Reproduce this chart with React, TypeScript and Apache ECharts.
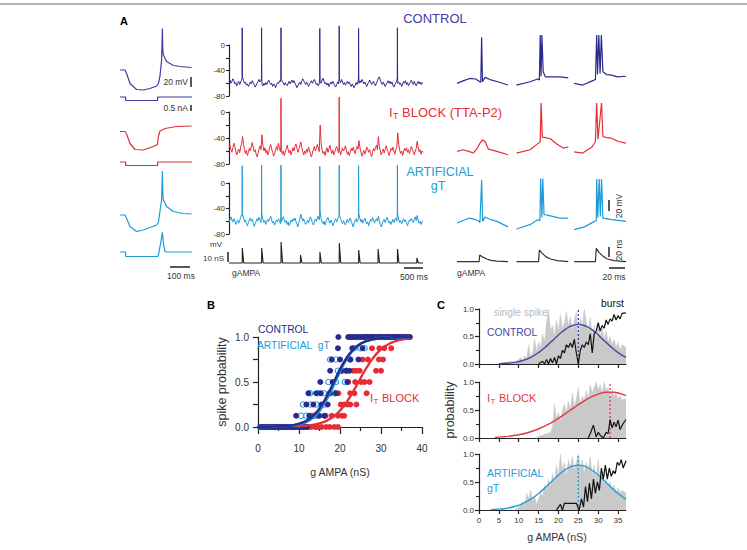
import React, { useEffect, useRef } from 'react';
import * as echarts from 'echarts';

const FONT = '"Liberation Sans", Arial, Helvetica, sans-serif';
const NAVY = '#2a2a8e';
const BLUE = '#3d3da3';
const RED = '#e62d36';
const CYAN = '#1c9bd7';
const GRAY = '#c9c9c9';
const INK = '#222222';
const LAB = '#333333';

// ---------- Panel A, left column (ms, mV / nA) ----------
const leftCtrlV = [[0,-60],[25,-60],[33,-67],[50,-87],[83,-99],[117,-100],[150,-97],[183,-92],[192,-87],[200,-72],[208,-40],[212,23],[214,-20],[217,-30],[233,-43],[267,-51],[300,-53],[358,-55]];
const leftRedV = [[0,-61],[25,-61],[33,-66],[50,-85],[75,-97],[117,-98],[167,-91],[187,-87],[192,-71],[200,-60],[225,-55],[283,-51],[358,-50]];
const leftCyanV = [[0,-60],[25,-60],[33,-67],[50,-83],[83,-93],[117,-90],[183,-80],[192,-75],[203,-43],[208,-30],[212,28],[214,-15],[217,-30],[233,-43],[267,-53],[317,-57],[358,-58]];
const leftCtrlI = [[0,0],[28,0],[28,-0.35],[188,-0.35],[188,0],[360,0]];
const leftRedI = [[0,0],[28,0],[28,-0.35],[188,-0.35],[188,0],[360,0]];
const leftCyanI = [[0,0],[28,0],[28,-0.45],[188,-0.45],[192,-0.3],[203,0.87],[212,1.97],[217,0.87],[225,0.03],[240,0],[360,0]];

// ---------- Panel A, middle column (ms, mV / nS) ----------
const noiseStep = 25;
const ctrlNoise = [
  -58,-55,-60,-57,-53,-56,-61,-59,-64,-60,-57,-62,-58,-55,-51,-56,-60,-58,-63,-61,
  -65,-62,-58,-61,-56,-59,-62,-66,-63,-60,-57,-54,-58,-56,-61,-64,-60,-63,-59,-62,
  -58,-55,-59,-62,-60,-65,-61,-63,-67,-62,-59,-61,-56,-58,-54,-57,-60,-63,-59,-62,
  -64,-60,-57,-61,-58,-55,-59,-56,-60,-63,-67,-64,-61,-58,-62,-57,-53,-56,-59,-62,
  -58,-61,-65,-62,-59,-56,-60,-57,-54,-58,-62,-60,-64,-61,-57,-60,-55,-52,-57,-61,
  -59,-63,-60,-65,-62,-58,-61,-57,-60,-64,-66,-62,-58,-61,-56,-59,-54,-58,-62,-59,
  -63,-60,-57,-61,-58,-62,-65,-61,-64,-67,-63,-59,-62,-57,-60,-56,-59,-54,-57,-61,
  -58,-62,-65,-61,-59,-55,-58,-62,-60,-57,-61,-64,-60,-56,-52,-50,-55,-59,-62,-58,
  -61,-65,-62,-59,-56,-60,-57,-61,-58,-63,-66,-62,-59,-56,-60,-58,-62,-60,-65,-61,
  -57,-60,-56,-62,-59,-64,-61,-58,-55,-59,-62,-57,-61,-64,-60,-57,-61,-58,-62,-59,
  -60];
const redNoise = [
  -56,-51,-58,-62,-55,-48,-53,-60,-66,-61,-57,-63,-54,-49,-38,-50,-58,-64,-59,-67,
  -62,-56,-60,-53,-47,-55,-61,-58,-65,-69,-63,-57,-52,-58,-35,-52,-60,-55,-63,-59,
  -66,-61,-54,-50,-57,-62,-68,-64,-58,-53,-59,-48,-55,-61,-57,-65,-60,-67,-62,-56,
  -51,-58,-63,-59,-66,-61,-55,-60,-53,-49,-56,-62,-58,-52,-46,-54,-61,-66,-60,-64,
  -57,-62,-54,-59,-65,-69,-63,-58,-53,-60,-56,-50,-55,-61,-20,-48,-58,-64,-61,-67,
  -60,-55,-62,-57,-51,-58,-64,-59,-66,-62,-56,-53,-59,-63,-58,-66,-61,-55,-60,-57,
  -52,-58,-65,-61,-67,-62,-56,-60,-54,-59,-64,-58,-53,-57,-44,-55,-62,-68,-63,-59,
  -65,-60,-54,-57,-62,-58,-64,-69,-62,-56,-60,-55,-51,-58,-38,-53,-60,-66,-61,-57,
  -63,-58,-52,-57,-61,-67,-62,-56,-59,-54,-60,-65,-58,-55,-32,-50,-59,-64,-60,-67,
  -61,-56,-60,-55,-62,-58,-64,-59,-53,-57,-62,-66,-60,-56,-45,-54,-61,-58,-65,-60,
  -62];
const cyanNoise = [
  -62,-57,-53,-58,-61,-56,-60,-65,-61,-58,-63,-59,-54,-50,-48,-55,-61,-58,-64,-67,
  -62,-58,-55,-60,-57,-63,-68,-64,-60,-56,-59,-54,-58,-62,-50,-57,-62,-59,-65,-61,
  -57,-60,-55,-52,-58,-63,-60,-66,-62,-58,-61,-56,-59,-64,-61,-57,-53,-58,-62,-59,
  -65,-61,-67,-63,-58,-61,-56,-59,-55,-60,-64,-69,-62,-57,-49,-55,-60,-56,-61,-65,
  -62,-58,-63,-57,-53,-58,-62,-66,-61,-57,-60,-55,-52,-58,-45,-56,-61,-64,-60,-66,
  -61,-57,-54,-59,-63,-58,-62,-67,-63,-59,-56,-61,-57,-53,-50,-56,-60,-64,-59,-62,
  -66,-61,-57,-62,-58,-55,-60,-64,-69,-63,-59,-56,-61,-58,-47,-56,-61,-57,-63,-59,
  -55,-60,-64,-61,-67,-62,-57,-60,-54,-58,-63,-59,-56,-60,-52,-59,-65,-69,-63,-60,
  -57,-62,-58,-54,-59,-63,-60,-65,-61,-57,-62,-58,-55,-60,-48,-57,-62,-59,-64,-60,
  -56,-61,-58,-63,-67,-62,-58,-60,-55,-59,-62,-57,-53,-59,-51,-58,-63,-60,-65,-61,
  -60];
const ctrlSpikeTimes = [340, 840, 1340, 2340, 2840, 3340, 4340];
const ctrlSpikePeaks = [27, 27, 27, 26, 30, 26, 27];
const redSpikeTimes = [1340, 2840];
const redSpikePeaks = [21, 23];
const cyanSpikeTimes = [340, 840, 1340, 2340, 2840, 3340, 4340];
const cyanSpikePeaks = [27, 28, 28, 26, 28, 27, 28];
const pulseTimes = [340, 840, 1340, 1840, 2340, 2840, 3340, 3840, 4340, 4840];
const pulseAmps = [15, 15, 21, 8, 11, 20, 13, 14, 14, 5];

// ---------- Panel A, right column (ms, mV / nS), three sweeps each ----------
const rightCtrl = [
  [[0,-68],[8,-63],[15,-59],[22,-60],[26,-64],[28,-66],[29,16],[30,-65],[33,-57],[39,-61],[48,-65],[60,-71]],
  [[70,-71],[86,-65],[95,-60],[97,-62],[98,20],[99,-55],[100,20],[101.5,-47],[104,-56],[110,-56],[121,-56],[131,-58]],
  [[138,-68],[148,-71],[160,-63],[163,-61],[164.5,20],[165.5,-52],[167,20],[168.5,-50],[170,20],[171.8,-47],[176,-52],[182,-53],[189,-56],[199,-55]],
];
const rightRed = [
  [[0,-68],[7,-65],[14,-68],[19,-71],[24,-62],[27,-53],[30,-47],[33,-50],[37,-64],[47,-68],[60,-74]],
  [[70,-71],[86,-65],[96,-53],[98,-50],[99,20],[100.5,-42],[104,-43],[110,-45],[117,-54],[125,-62],[131,-60]],
  [[138,-69],[148,-71],[159,-60],[163,-50],[164.4,20],[166,-46],[170.2,20],[171.8,-41],[176,-43],[182,-44],[190,-50],[199,-53]],
];
const rightCyan = [
  [[0,-60],[8,-55],[15,-51],[22,-54],[25,-56],[27,-59],[29,18],[30.2,-57],[33,-49],[40,-54],[47,-57],[60,-67]],
  [[70,-71],[86,-63],[95,-54],[97.6,-56],[98.5,21],[100,-50],[101,21],[102.5,-45],[104,-45],[110,-47],[121,-51],[131,-51]],
  [[138,-72],[150,-67],[162,-57],[164,-56],[164.5,20],[165.8,-50],[167.4,20],[168.8,-48],[170.2,20],[171.8,-51],[182,-54],[199,-57]],
];
const rightG = [
  [[0,0],[26,0],[26.7,12.6],[30,9],[35,5],[40,2.5],[47,1],[60,0]],
  [[70,0],[96,0],[97,22],[100,16],[105,9],[110,5],[118,2],[131,0]],
  [[138,0],[163,0],[164,25],[167,18],[172,10],[177,5],[185,2],[199,0]],
];

// ---------- Panel B (nS, spike probability) ----------
const ctrlPts = [[0.5,0],[1,0],[1.5,0],[2,0],[2.5,0],[3,0],[3.5,0],[4,0],[4.5,0],[5,0],[5.5,0],[6,0],[6.5,0],[7,0],[7.5,0],[8,0],[8.5,0],[9,0],[9.5,0],[10,0],[10.5,0],[11,0],[11.5,0],[12,0],
  [9.3,0.125],[12.5,0.125],[14.8,0.125],[16.2,0.125],[11.8,0.25],[13.5,0.25],[15.5,0.25],[17,0.25],
  [12.3,0.375],[14.2,0.375],[15.3,0.375],[17.5,0.375],[19,0.375],[15.2,0.5],[18.2,0.5],[21.8,0.5],
  [17.6,0.625],[20.3,0.625],[21.5,0.625],[22.3,0.625],[18,0.75],[20,0.75],[22.5,0.75],[24.5,0.75],
  [19.5,0.875],[23,0.875],[25.5,0.875],
  [19.6,1],[22,1],[22.5,1],[23,1],[23.5,1],[24,1],[24.5,1],[25,1],[25.5,1],[26,1],[26.5,1],[27,1],[27.5,1],[28,1],[28.5,1],[29,1],[29.5,1],[30,1],[30.5,1],[31,1],[31.5,1],[32,1],[32.5,1],[33,1],[33.5,1],[34,1],[34.5,1],[35,1],[35.5,1],[36,1],[36.5,1],[37,1]];
const artPts = [[1,0],[2,0],[3,0],[4,0],[5,0],[6,0],[7,0],[8,0],[9,0],[10,0],[11,0],
  [10.5,0.125],[11.8,0.125],[13,0.125],[14,0.125],[11,0.25],[12.8,0.25],[14.2,0.25],[16.3,0.25],
  [12.7,0.375],[14.7,0.375],[16,0.375],[17.5,0.375],[18.7,0.375],[17.2,0.5],[19,0.5],[21.2,0.5],
  [19.5,0.625],[20.5,0.625],[21.6,0.625],[17.6,0.75],[19,0.75],[22.5,0.75],[23.5,0.875],[25,0.875],[26,0.875],
  [26.5,1],[28,1],[30,1],[32,1],[34,1],[36,1]];
const blockPts = [[12.2,0],[13,0],[14,0],[14.6,0],[15.5,0],[16.6,0],[17.5,0],[18.6,0],[19.5,0],
  [13.5,0.125],[15,0.125],[16.5,0.125],[18,0.125],[19.5,0.125],[20.5,0.125],[21,0.125],
  [20.2,0.25],[21,0.25],[21.8,0.25],[22.5,0.25],[24,0.25],[19.6,0.375],[22.5,0.375],[23.5,0.375],[26.5,0.375],
  [22,0.5],[23.7,0.5],[25.2,0.5],[26,0.5],[27.2,0.5],[23.2,0.625],[24,0.625],[24.8,0.625],[28.8,0.625],[30,0.625],
  [25.5,0.75],[26.8,0.75],[29.5,0.75],[30.5,0.75],[27.8,0.875],[29.6,0.875],[30.8,0.875],[32.5,0.875],
  [31.5,1],[33,1],[34,1],[35,1],[36,1],[37,1]];
const ctrlFit = [[0,0.001],[2,0.002],[4,0.004],[6,0.008],[8,0.017],[10,0.037],[11,0.053],[12,0.076],[13,0.108],[14,0.151],[15,0.207],[16,0.277],[17,0.36],[18,0.452],[19,0.548],[20,0.64],[21,0.723],[22,0.794],[23,0.849],[24,0.892],[25,0.924],[26,0.947],[27,0.963],[28,0.975],[30,0.988],[32,0.995],[34,0.997],[37,0.999]];
const artFit = [[0,0.001],[4,0.003],[8,0.013],[10,0.029],[11,0.042],[12,0.062],[13,0.089],[14,0.128],[15,0.179],[16,0.246],[17,0.327],[18,0.421],[19,0.52],[20,0.618],[21,0.707],[22,0.782],[23,0.843],[24,0.889],[25,0.923],[26,0.947],[27,0.964],[28,0.975],[30,0.989],[32,0.995],[34,0.998],[37,0.999]];
const blockFit = [[9,0.006],[10,0.008],[12,0.015],[14,0.029],[15,0.04],[16,0.056],[17,0.076],[18,0.103],[19,0.138],[20,0.182],[21,0.237],[22,0.303],[23,0.378],[24,0.458],[25,0.542],[26,0.622],[27,0.697],[28,0.763],[29,0.818],[30,0.862],[31,0.897],[32,0.924],[33,0.944],[34,0.96],[35,0.971],[36,0.979],[37,0.985]];

// ---------- Panel C (nS, probability) ----------
const ctrlSingle = [[5,0],[6,0.02],[7,0.03],[8,0.05],[9,0.04],[10,0.08],[10.5,0.12],[11,0.06],[11.5,0.15],[12,0.1],[12.5,0.35],[13,0.12],[13.5,0.2],[14,0.45],[14.5,0.22],[15,0.4],[15.5,0.3],[16,0.55],[16.5,0.4],[17,0.75],[17.5,1],[18,0.6],[18.5,0.7],[19,0.5],[19.5,0.8],[20,0.6],[20.5,0.9],[21,0.65],[21.5,0.75],[22,0.95],[22.5,0.7],[23,0.85],[23.5,0.6],[24,0.8],[24.5,0.95],[25,0.5],[25.5,0.85],[26,0.7],[26.5,1],[27,0.75],[27.5,0.6],[28,0.85],[28.5,0.5],[29,0.7],[29.5,0.45],[30,0.7],[30.5,0.5],[31,0.65],[31.5,0.45],[32,0.6],[32.5,0.4],[33,0.5],[33.5,0.35],[34,0.45],[34.5,0.3],[35,0.4],[35.5,0.25],[36,0.35],[37,0.3]];
const ctrlBurst = [[15,0],[16,0.05],[16.5,0],[17,0.08],[17.5,0],[18,0.1],[18.5,0.02],[19,0.12],[19.5,0],[20,0.15],[20.5,0.1],[21,0.25],[21.5,0.2],[22,0.35],[22.5,0.3],[23,0.38],[23.5,0.3],[24,0.45],[24.5,0.2],[25,0],[25.5,0.25],[26,0.35],[26.5,0.3],[27,0.4],[27.5,0.35],[28,0.55],[28.5,0.2],[29,0.55],[29.5,0.6],[30,0.75],[30.5,0.6],[31,0.7],[31.5,0.65],[32,0.8],[32.5,0.72],[33,0.82],[33.5,0.78],[34,0.9],[34.5,0.8],[35,0.88],[35.5,0.82],[36,0.92],[37,0.93]];
const ctrlGauss = [[5,0.005],[7,0.013],[9,0.03],[11,0.063],[13,0.121],[15,0.208],[17,0.325],[19,0.461],[21,0.59],[23,0.685],[25,0.72],[27,0.685],[29,0.59],[31,0.461],[33,0.325],[35,0.208],[37,0.121]];
const ctrlPeak = 25;
const blockSingle = [[14.5,0],[15,0.03],[16,0.05],[17,0.08],[18,0.1],[18.5,0.2],[19,0.6],[19.5,0.35],[20,0.45],[20.5,0.3],[21,0.5],[21.5,0.6],[22,0.45],[22.5,0.65],[23,0.5],[23.5,0.8],[24,0.55],[24.5,0.7],[25,0.9],[25.5,0.6],[26,0.75],[26.5,0.65],[27,0.85],[27.5,0.7],[28,0.95],[28.5,0.8],[29,0.9],[29.5,1],[30,0.85],[30.5,0.95],[31,0.8],[31.5,1],[32,0.85],[32.5,0.9],[33,0.7],[33.5,0.85],[34,0.75],[34.5,0.8],[35,0.7],[35.5,0.75],[36,0.68],[37,0.7]];
const blockBurst = [[27.5,0],[28,0.08],[28.8,0.23],[29.5,0.02],[30,0.1],[30.5,0.05],[31.3,0],[32,0.1],[32.5,0.08],[33,0.33],[33.5,0.18],[34,0.28],[34.5,0.2],[35,0.32],[35.5,0.15],[36.2,0.25],[37,0.33]];
const blockGauss = [[4,0.012],[6,0.021],[8,0.036],[10,0.058],[12,0.09],[14,0.135],[16,0.193],[18,0.266],[20,0.352],[22,0.448],[24,0.547],[26,0.642],[28,0.724],[30,0.784],[32,0.816],[33,0.82],[34,0.816],[35,0.804],[36,0.784],[37,0.757]];
const blockPeak = 33;
const artSingle = [[9,0],[10,0.05],[11,0.15],[11.5,0.08],[12,0.3],[12.5,0.2],[13,0.35],[13.5,0.15],[14,0.25],[14.5,0.1],[15,0.2],[15.5,0.3],[16,0.25],[16.5,0.45],[17,0.35],[17.5,0.55],[18,0.4],[18.5,0.65],[19,0.5],[19.5,0.8],[20,0.6],[20.5,1],[21,0.7],[21.5,0.85],[22,0.6],[22.5,0.9],[23,0.75],[23.5,0.95],[24,0.7],[24.5,0.85],[25,1],[25.5,0.75],[26,0.9],[26.5,0.65],[27,0.85],[27.5,0.7],[28,0.95],[28.5,0.6],[29,0.8],[29.5,0.55],[30,0.9],[30.5,0.5],[31,0.65],[31.5,0.45],[32,0.55],[32.5,0.4],[33,0.5],[33.5,0.35],[34,0.45],[34.5,0.3],[35,0.4],[35.5,0.3],[36,0.35],[37,0.3]];
const artBurst = [[19.5,0],[20,0.05],[20.5,0.1],[21,0],[21.5,0.12],[24.5,0.12],[25.2,0],[25.8,0.2],[26.3,0.05],[26.8,0.42],[27.3,0.15],[27.8,0.48],[28.3,0.2],[28.8,0.55],[29.3,0.3],[29.8,0.5],[30.3,0.35],[30.8,0.75],[31.3,0.55],[31.8,0.8],[32.3,0.55],[32.8,0.75],[33.3,0.6],[33.8,0.7],[34.3,0.65],[34.8,0.85],[35.3,0.8],[35.8,0.9],[36.3,0.75],[37,0.88]];
const artGauss = [[3,0.006],[5,0.015],[7,0.031],[9,0.062],[11,0.113],[13,0.19],[15,0.294],[17,0.422],[19,0.558],[21,0.682],[23,0.769],[25,0.8],[27,0.769],[29,0.682],[31,0.558],[33,0.422],[35,0.294],[37,0.19]];
const artPeak = 25;
const cTicks = [0, 5, 10, 15, 20, 25, 30, 35];

function longTrace(noise: number[], st: number[], sp: number[]) {
  const pts: number[][] = noise.map((v, i) => [i * noiseStep, v]);
  st.forEach((t, k) => { pts.push([t - 3, -52], [t, sp[k]], [t + 5, -48]); });
  pts.sort((a, b) => a[0] - b[0]);
  return pts;
}
function pulseTrace() {
  const pts: number[][] = [[0, 0]];
  pulseTimes.forEach((t, k) => { pts.push([t, 0], [t + 3, pulseAmps[k]], [t + 40, 0]); });
  pts.push([5000, 0]);
  return pts;
}

function buildOption() {
  const grid: any[] = [], xAxis: any[] = [], yAxis: any[] = [], series: any[] = [];
  const addGrid = (g: any, xa: any, ya: any) => {
    const i = grid.length;
    grid.push({ ...g, containLabel: false, outerBoundsMode: 'none' });
    xAxis.push({ gridIndex: i, type: 'value', splitLine: { show: false }, ...xa });
    yAxis.push({ gridIndex: i, type: 'value', splitLine: { show: false }, ...ya });
    return i;
  };
  const hid = (min: number, max: number) => ({ min, max, show: false });
  const line = (i: number, data: any, color: string, width = 1.1, extra: any = {}) =>
    series.push({ type: 'line', xAxisIndex: i, yAxisIndex: i, data, symbol: 'none', showSymbol: false, clip: false, silent: true, lineStyle: { color, width }, ...extra });
  const axLine = { show: true, lineStyle: { color: INK, width: 1.2 } };

  // left column
  let g = addGrid({ left: 120, top: 20, width: 72, height: 75 }, hid(0, 360), hid(-110, 40)); line(g, leftCtrlV, BLUE, 1.2);
  g = addGrid({ left: 120, top: 87, width: 72, height: 20 }, hid(0, 360), hid(-1, 1)); line(g, leftCtrlI, BLUE, 1.2);
  g = addGrid({ left: 120, top: 81, width: 72, height: 75 }, hid(0, 360), hid(-110, 40)); line(g, leftRedV, RED, 1.2);
  g = addGrid({ left: 120, top: 152, width: 72, height: 20 }, hid(0, 360), hid(-1, 1)); line(g, leftRedI, RED, 1.2);
  g = addGrid({ left: 120, top: 165, width: 72, height: 75 }, hid(0, 360), hid(-110, 40)); line(g, leftCyanV, CYAN, 1.2);
  g = addGrid({ left: 120, top: 222, width: 72, height: 40 }, hid(0, 360), hid(-1, 3)); line(g, leftCyanI, CYAN, 1.2);

  // middle column
  const midY = {
    min: -80, max: 0, interval: 40, axisLine: axLine,
    axisTick: { show: true, length: 3, lineStyle: { color: INK, width: 1.1 } },
    minorTick: { show: true, splitNumber: 2, length: 3, lineStyle: { color: INK, width: 1.1 } },
    minorSplitLine: { show: false },
    axisLabel: { fontSize: 8, color: LAB, margin: 4, fontFamily: FONT },
  };
  g = addGrid({ left: 229, top: 45, width: 194, height: 51 }, hid(0, 5000), midY); line(g, longTrace(ctrlNoise, ctrlSpikeTimes, ctrlSpikePeaks), NAVY, 1);
  g = addGrid({ left: 229, top: 112, width: 194, height: 52 }, hid(0, 5000), midY); line(g, longTrace(redNoise, redSpikeTimes, redSpikePeaks), RED, 1);
  g = addGrid({ left: 229, top: 183, width: 194, height: 51 }, hid(0, 5000), midY); line(g, longTrace(cyanNoise, cyanSpikeTimes, cyanSpikePeaks), CYAN, 1);
  g = addGrid({ left: 229, top: 238, width: 194, height: 25 }, hid(0, 5000), hid(0, 25)); line(g, pulseTrace(), INK, 1.1);

  // right column
  g = addGrid({ left: 457, top: 24, width: 169, height: 77 }, hid(0, 199), hid(-100, 40)); rightCtrl.forEach(s => line(g, s, NAVY, 1.2));
  const gr = addGrid({ left: 457, top: 92, width: 169, height: 77 }, hid(0, 199), hid(-100, 40)); rightRed.forEach(s => line(gr, s, RED, 1.2));
  const gc = addGrid({ left: 457, top: 168, width: 169, height: 77 }, hid(0, 199), hid(-100, 40)); rightCyan.forEach(s => line(gc, s, CYAN, 1.2));
  const gg = addGrid({ left: 457, top: 245.7, width: 169, height: 16 }, hid(0, 199), hid(0, 30)); rightG.forEach(s => line(gg, s, '#333', 1.2));

  // panel B
  const gb = addGrid({ left: 258, top: 337, width: 164, height: 90 }, {
    min: 0, max: 40, interval: 10, offset: 8, axisLine: axLine,
    axisTick: { show: true, length: 7, lineStyle: { color: INK, width: 1.2 } },
    minorTick: { show: true, splitNumber: 2, length: 4, lineStyle: { color: INK, width: 1.2 } },
    minorSplitLine: { show: false },
    axisLabel: { fontSize: 10, color: LAB, margin: 8, fontFamily: FONT },
  }, {
    min: 0, max: 1, interval: 0.5, axisLine: axLine,
    axisTick: { show: true, length: 5, lineStyle: { color: INK, width: 1.2 } },
    minorTick: { show: true, splitNumber: 2, length: 5, lineStyle: { color: INK, width: 1.2 } },
    minorSplitLine: { show: false },
    axisLabel: { fontSize: 10, color: LAB, margin: 9, fontFamily: FONT, formatter: (v: number) => v.toFixed(1) },
  });
  const scatter = (data: any, color: string, empty = false) => series.push({
    type: 'scatter', xAxisIndex: gb, yAxisIndex: gb, data, clip: false, silent: true,
    symbol: 'circle', symbolSize: empty ? 5.5 : 6,
    itemStyle: empty ? { color: 'rgba(255,255,255,0)', borderColor: color, borderWidth: 1.1, opacity: 1 } : { color, opacity: 1 },
  });
  scatter(artPts, CYAN, true);
  scatter(blockPts, RED);
  scatter(ctrlPts, NAVY);
  line(gb, blockFit, RED, 2.3, { smooth: true });
  line(gb, artFit, CYAN, 2.6, { smooth: true });
  line(gb, ctrlFit, NAVY, 2.4, { smooth: true });

  // panel C
  const cPanel = (top: number, h: number, labels: boolean) => addGrid({ left: 479, top, width: 147, height: h }, {
    min: 0, max: 37, interval: 5, axisLine: axLine,
    axisTick: { show: true, length: 4, customValues: cTicks, lineStyle: { color: INK, width: 1.2 } },
    axisLabel: { show: labels, customValues: cTicks, fontSize: 8, color: LAB, margin: 6, fontFamily: FONT },
  }, {
    min: 0, max: 1, interval: 0.5, axisLine: axLine,
    axisTick: { show: true, length: 4, lineStyle: { color: INK, width: 1.2 } },
    minorTick: { show: true, splitNumber: 2, length: 3, lineStyle: { color: INK, width: 1.1 } },
    minorSplitLine: { show: false },
    axisLabel: { fontSize: 8, color: LAB, margin: 5, fontFamily: FONT, formatter: (v: number) => v.toFixed(1) },
  });
  const cSet = (i: number, single: any, burst: any, gauss: any, peak: number, color: string) => {
    line(i, single, GRAY, 0.5, { areaStyle: { color: GRAY, opacity: 1 }, lineStyle: { color: GRAY, width: 0.5 } });
    line(i, gauss, color, 1.4, { smooth: true });
    line(i, [[peak, 0], [peak, 1]], color, 1.3, { lineStyle: { color, width: 1.3, type: [2, 2] } });
    line(i, burst, '#111', 1.2);
  };
  cSet(cPanel(309, 55, false), ctrlSingle, ctrlBurst, ctrlGauss, ctrlPeak, '#4646a8');
  cSet(cPanel(382, 56, false), blockSingle, blockBurst, blockGauss, blockPeak, '#e23a44');
  cSet(cPanel(454, 56, true), artSingle, artBurst, artGauss, artPeak, '#23a0da');

  const txt = (text: string, x: number, y: number, size: number, fill: string, align = 'left', extra: any = {}, weight = 'normal') => ({
    type: 'text', x, y, silent: true, z: 100, ...extra,
    style: { text, fill, font: `${weight} ${size}px ${FONT}`, align, verticalAlign: 'middle' },
  });
  const bar = (x1: number, y1: number, x2: number, y2: number) => ({
    type: 'line', silent: true, shape: { x1, y1, x2, y2 }, style: { stroke: INK, lineWidth: 1.5 },
  });
  const rot = { rotation: Math.PI / 2 };
  const graphic: any[] = [
    { type: 'rect', silent: true, shape: { x: 0, y: 3, width: 747, height: 2 }, style: { fill: '#b4b4b4' } },
    txt('A', 124, 21, 11, '#000', 'center', {}, 'bold'),
    txt('B', 211, 305, 11, '#000', 'center', {}, 'bold'),
    txt('C', 441, 305, 11, '#000', 'center', {}, 'bold'),
    // panel A titles
    txt('CONTROL', 435, 18, 13, BLUE, 'center'),
    txt('I', 389, 112, 13, RED, 'left'),
    txt('T', 393, 116, 9, RED, 'left'),
    txt('BLOCK (TTA-P2)', 402, 112, 13, RED, 'left'),
    txt('ARTIFICIAL', 440, 172, 12.5, CYAN, 'center'),
    txt('gT', 438, 186, 12.5, CYAN, 'center'),
    // left scale bars
    txt('20 mV', 188, 82, 8.5, LAB, 'right'), bar(191, 77, 191, 87),
    txt('0.5 nA', 188, 108, 8.5, LAB, 'right'), bar(191, 105, 191, 111),
    bar(170, 267, 190, 267), txt('100 ms', 181, 276, 8.5, LAB, 'center'),
    // middle labels
    txt('mV', 216, 244, 8, LAB, 'center'),
    txt('10 nS', 224, 258, 8, LAB, 'right'), bar(228, 252, 228, 262),
    txt('gAMPA', 232, 273, 8.5, LAB, 'left'),
    bar(404, 268, 423, 268), txt('500 ms', 414, 277, 8.5, LAB, 'center'),
    // right labels
    txt('gAMPA', 457, 273, 8.5, LAB, 'left'),
    bar(609, 200, 609, 211), txt('20 mV', 619, 206, 8.5, LAB, 'center', rot),
    bar(609, 247, 609, 257), txt('20 ns', 619, 250, 8.5, LAB, 'center', rot),
    bar(609, 268, 625, 268), txt('20 ms', 614, 277, 8.5, LAB, 'center'),
    // panel B
    txt('CONTROL', 258, 329, 10.3, NAVY, 'left'),
    txt('ARTIFICIAL  gT', 257, 345, 10.3, CYAN, 'left'),
    txt('I', 370, 398, 11, RED, 'left'),
    txt('T', 373.5, 401.5, 8, RED, 'left'),
    txt('BLOCK', 382, 398, 11, RED, 'left'),
    txt('g AMPA (nS)', 340, 472, 10.5, LAB, 'center'),
    txt('spike probability', 222, 382, 12.5, LAB, 'center', rot),
    // panel C
    txt('single spike', 494, 312, 10.3, '#b9b9b9', 'left'),
    txt('burst', 624, 303, 10.3, '#111', 'right'),
    txt('CONTROL', 487, 332, 10.3, '#4646a8', 'left'),
    txt('I', 487, 398, 11, '#e23a44', 'left'),
    txt('T', 490.5, 401.5, 8, '#e23a44', 'left'),
    txt('BLOCK', 499, 398, 11, '#e23a44', 'left'),
    txt('ARTIFICIAL', 487, 473, 10.5, '#23a0da', 'left'),
    txt('gT', 487, 488, 10.5, '#23a0da', 'left'),
    txt('probability', 450, 410, 12.5, LAB, 'center', rot),
    txt('g AMPA (nS)', 557, 537, 10.5, LAB, 'center'),
  ];

  return {
    animation: false,
    backgroundColor: '#ffffff',
    textStyle: { fontFamily: FONT },
    grid, xAxis, yAxis, series, graphic,
  };
}

export default function App() {
  const ref = useRef<HTMLDivElement>(null);
  useEffect(() => {
    const chart = echarts.init(ref.current!, null, { renderer: 'svg' });
    chart.setOption(buildOption() as any);
    return () => chart.dispose();
  }, []);
  return <div ref={ref} style={{ position: 'fixed', left: 0, top: 0, width: 747, height: 550, background: '#fff' }} />;
}
